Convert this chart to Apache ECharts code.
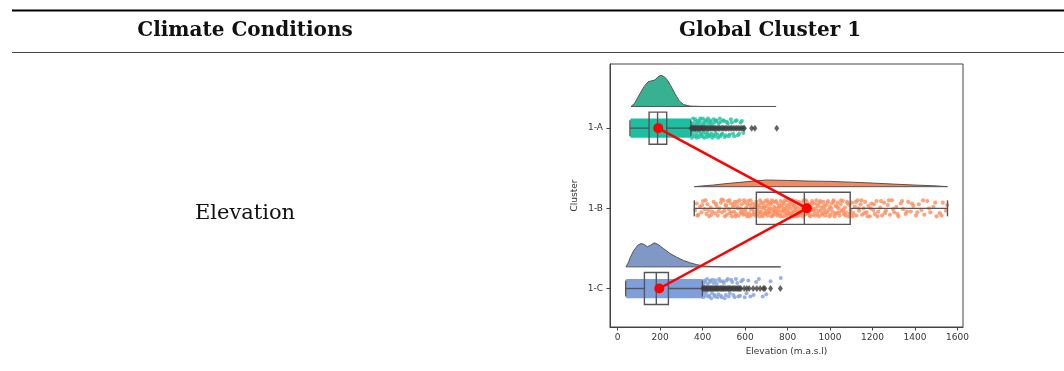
<!DOCTYPE html>
<html><head><meta charset="utf-8">
<script src="https://cdn.jsdelivr.net/npm/echarts@6/dist/echarts.min.js"></script>
<style>html,body{margin:0;padding:0;background:#fff}#c{width:1064px;height:371px}</style>
</head><body><div id="c"></div>
<script>
// ---------------- data ----------------
const headerLeft = 'Climate Conditions';
const headerRight = 'Global Cluster 1';
const rowLabel = 'Elevation';
const clusters = ['1-A', '1-B', '1-C'];
const xTicks = [0, 200, 400, 600, 800, 1000, 1200, 1400, 1600];
const xName = 'Elevation (m.a.s.l)';
const yName = 'Cluster';

// box stats: [whisker low, Q1, median, Q3, whisker high]
const boxA = [58, 148, 188, 231, 345];
const boxB = [361, 653, 879, 1095, 1553];
const boxC = [38, 126, 182, 239, 399];
const means = [191, 891, 196];

// half-violin (cloud) profiles: [elevation, density height in cluster units]
const cloudA = [[63,0],[80,0.04],[105,0.16],[125,0.25],[144,0.31],[160,0.32],[175,0.33],[190,0.37],[204,0.39],[220,0.37],[234,0.33],[250,0.26],[270,0.16],[290,0.07],[310,0.025],[340,0.005],[400,0],[746,0]];
const cloudB = [[361,0],[400,0.01],[450,0.02],[500,0.035],[600,0.06],[700,0.083],[800,0.078],[900,0.07],[1000,0.066],[1100,0.056],[1200,0.045],[1300,0.032],[1400,0.02],[1500,0.01],[1553,0]];
const cloudC = [[39,0],[50,0.05],[60,0.12],[75,0.2],[95,0.27],[110,0.29],[125,0.28],[140,0.25],[155,0.27],[172,0.3],[190,0.28],[215,0.23],[245,0.17],[278,0.12],[310,0.08],[341,0.05],[370,0.03],[402,0.012],[450,0.003],[500,0],[768,0]];

// dense (saturated) part of the strip plots: [low, high]
const denseA = [60, 345];
const denseC = [40, 400];

// individual strip points: [elevation, jitter offset]
const stripA = [[350,0.12],[355,-0.12],[362,0.1],[366,-0.11],[372,0.12],[378,-0.09],[384,0.11],[389,-0.12],[395,0.08],[401,-0.12],[407,0.12],[413,-0.1],[419,0.11],[425,-0.12],[432,0.09],[438,-0.08],[445,0.12],[452,-0.11],[458,0.1],[466,-0.09],[473,0.12],[481,-0.12],[489,0.08],[497,-0.1],[505,0.11],[514,-0.08],[523,0.1],[533,-0.11],[543,0.07],[554,-0.09],[566,0.09],[579,-0.07],[592,0.06],
[347,0.05],[349,-0.06],[353,0.08],[357,-0.04],[360,0.03],[364,-0.08],[369,0.06],[371,-0.05],[375,0.09],[380,-0.06],[383,0.04],[387,-0.09],[391,0.07],[393,-0.04],[398,0.1],[403,-0.07],[405,0.05],[410,-0.05],[416,0.08],[418,-0.09],[422,0.06],[428,-0.06],[430,0.1],[435,-0.1],[441,0.07],[443,-0.05],[449,0.09],[455,-0.07],[461,0.06],[463,-0.1],[470,0.08],[476,-0.06],[484,0.1],[486,-0.08],[493,0.07],[501,-0.09],[509,0.09],[518,-0.06],[527,0.08],[538,-0.07],[549,0.1],[560,-0.1],[572,0.07],[585,-0.09]];
const stripB = [[365,0.02],[372,-0.06],[380,0.08],[388,-0.02],[395,0.05],[402,-0.09],[410,0.01],[418,0.07],[423,-0.05],[431,0.1],[438,-0.01],[445,0.04],[452,-0.08],[458,0.06],[466,-0.03],[471,0.09],[479,0.0],[486,-0.07],[492,0.05],[498,-0.1],
[503,0.03],[508,-0.04],[514,0.08],[519,-0.09],[524,0.01],[529,0.06],[533,-0.06],[538,0.1],[543,-0.02],[548,0.04],[552,-0.08],[557,0.07],[561,-0.03],[566,0.0],[570,0.09],[574,-0.1],[579,0.05],[583,-0.05],[588,0.02],[592,0.08],[597,-0.07],[601,0.03],[606,-0.01],[610,0.1],[614,-0.09],[619,0.06],[623,-0.04],[628,0.01],[632,0.08],[636,-0.06],[641,0.04],[645,-0.02],[649,0.09],
[653,-0.08],[657,0.02],[660,0.07],[664,-0.04],[667,0.1],[671,-0.1],[674,0.04],[678,-0.01],[681,0.08],[685,-0.06],[688,0.0],[692,0.06],[695,-0.09],[699,0.03],[702,-0.03],[705,0.09],[709,-0.07],[712,0.01],[716,0.05],[719,-0.05],[723,0.1],[726,-0.1],[730,0.02],[733,0.07],[737,-0.02],[740,-0.08],[744,0.05],[747,0.0],[751,0.09],[754,-0.06],[758,0.03],[761,-0.03],[765,0.08],[768,-0.09],[772,0.04],[775,-0.01],[779,0.1],[782,-0.07],[786,0.01],[789,0.06],[793,-0.04],[796,0.09],[800,-0.1],[803,0.03],[807,-0.02],[810,0.07],[814,-0.08],[817,0.0],[821,0.05],[824,-0.05],[828,0.1],[831,-0.03],[835,0.02],[838,-0.09],[842,0.08],[845,-0.01],[849,0.04],[852,-0.06],[856,0.09],[859,0.01],[863,-0.07],[866,0.06],[870,-0.03],[873,0.1],[877,-0.1],[880,0.03],[884,-0.04],[887,0.07],[891,-0.08],[894,0.0],[898,0.05],[902,-0.05],[905,0.09],[909,-0.02],[912,0.02],[916,-0.09],[920,0.08],[924,-0.06],[928,0.04],[932,0.0],[936,-0.1],[940,0.07],[944,-0.03],[948,0.1],[952,-0.07],[956,0.03],[960,-0.01],[965,0.06],[969,-0.08],[973,0.01],[977,0.09],[981,-0.04],[986,0.05],[990,-0.09],[994,0.02],[999,-0.02],[1003,0.08],[1008,-0.06],[1012,0.04],[1017,-0.1],[1021,0.1],[1026,-0.03],[1030,0.06],[1035,-0.07],[1040,0.0],[1045,0.09],[1050,-0.05],[1055,0.03],[1060,-0.09],[1065,0.07],[1070,-0.01],[1075,0.05],[1080,-0.08],[1086,0.1],[1091,-0.04],[1097,0.02],
[1103,-0.07],[1110,0.06],[1117,-0.02],[1124,0.09],[1130,-0.1],[1137,0.03],[1144,-0.05],[1151,0.08],[1158,0.0],[1165,-0.08],[1172,0.05],[1180,-0.03],[1187,0.1],[1195,-0.06],[1203,0.02],[1211,0.07],[1219,-0.09],[1227,0.04],[1236,-0.01],[1245,0.09],[1254,-0.07],[1263,0.03],[1272,-0.04],[1282,0.08],[1292,-0.1],[1302,0.05],[1312,-0.02],[1322,0.1],[1333,-0.06],[1344,0.01],[1356,0.07],[1368,-0.08],[1380,0.04],[1392,-0.03],
[1405,0.09],[1418,-0.05],[1430,0.02],[1444,0.08],[1458,-0.09],[1472,0.05],[1487,-0.02],[1502,0.1],[1517,0.06],[1531,-0.07],[1545,0.03],[1552,-0.04],
[376,0.09],[398,-0.04],[414,-0.1],[427,0.03],[441,0.08],[462,-0.06],[475,0.04],[489,-0.11],[505,0.1],[511,-0.03],[526,-0.1],[535,0.05],[546,-0.05],[555,0.1],[564,-0.08],[577,0.0],[586,0.06],[595,-0.1],[604,0.07],[612,-0.05],[621,0.1],[626,-0.1],[634,0.0],[643,0.07],[651,-0.04],[662,-0.01],[669,0.05],[676,-0.07],[683,0.1],[690,-0.02],[697,0.07],[704,-0.1],[711,0.05],[718,0.0],[724,-0.07],[731,0.09],[739,0.03],[746,-0.09],[753,0.06],[760,-0.01],[767,0.1],[774,-0.05],[781,0.03],[788,-0.1],[795,0.0],[802,0.06],[809,-0.05],[816,0.09],[823,-0.1],[830,0.04],[837,-0.01],[844,0.1],[851,-0.08],[858,0.05],[865,-0.04],[872,0.0],[879,0.08],[886,-0.1],[893,0.06],[900,-0.02],[907,0.1],[914,-0.06],[922,0.01],[930,0.09],[938,-0.05],[946,0.03],[954,-0.09],[962,0.08],[971,-0.03],[979,0.05],[988,-0.07],[997,0.1],[1006,0.0],[1015,-0.08],[1024,0.07],[1033,-0.02],[1042,0.05],[1052,-0.1],[1062,0.02],[1072,0.09],[1083,-0.06],[1094,0.06],[1106,0.1],[1121,-0.08],[1134,0.0],[1148,-0.1],[1162,0.06],[1177,0.1],[1191,0.0],[1207,-0.05],[1223,0.1],[1240,-0.09],[1258,0.06],[1277,-0.1],[1297,0.01],[1317,0.07],[1339,-0.09],[1362,0.04],[1386,-0.06],[1411,0.05],[1438,-0.1],[1466,0.0],[1495,-0.07],[1525,0.09]];
const stripC = [[404,0.11],[409,-0.1],[415,0.09],[421,-0.12],[428,0.1],[434,-0.08],[441,0.12],[448,-0.11],[455,0.08],[462,-0.1],[470,0.11],[478,-0.12],[486,0.09],[495,-0.09],[504,0.12],[513,-0.1],[523,0.1],[534,-0.11],[545,0.08],[557,-0.12],[569,0.1],[582,-0.09],[598,0.11],[615,-0.1],[640,0.08],[665,-0.12],[700,0.07],[768,-0.13],
[403,-0.05],[407,0.06],[412,-0.08],[418,0.05],[424,-0.06],[431,0.09],[437,-0.1],[444,0.06],[451,-0.07],[458,0.1],[466,-0.06],[474,0.07],[482,-0.09],[490,0.11],[500,-0.07],[509,0.08],[518,-0.12],[528,0.06],[540,-0.08],[551,0.11],[563,-0.07],[576,0.09],[590,-0.11],[607,0.06],[625,0.1],[652,-0.08],[683,0.1],[720,-0.09]];

// outliers (diamonds)
const outliersA = [346,350,355,359,364,368,373,378,382,387,392,397,401,406,411,417,422,427,433,438,444,450,455,461,468,474,480,487,494,500,507,514,521,529,536,544,552,560,568,576,584,591,597,631,646,749];
const outliersC = [401,405,410,414,419,423,428,433,437,442,447,452,457,462,467,472,477,483,488,494,499,505,510,516,522,527,533,539,545,551,557,563,569,575,580,596,608,619,638,655,671,686,693,720,766];

// ---------------- styles ----------------
const cloudColors = ['#38b192', '#f08a62', '#7f98c6'];
const stripColors = ['#1cc0a0', '#fb8d5e', '#7f9fdb'];
const lineGray = '#555555';
const CLOUD_OFF = -0.27, BAND = 0.12, BOX_H = 0.2, CAP = 0.1;

const clouds = [cloudA, cloudB, cloudC];
const boxes = [boxA, boxB, boxC];
const tickFont = 'DejaVu Sans';

const chart = echarts.init(document.getElementById('c'), null, {renderer: 'canvas'});

function renderCloud(params, api) {
  const i = api.value(1);
  const pts = clouds[i].map(d => api.coord([d[0], i + CLOUD_OFF - d[1]]));
  return {type: 'polygon', shape: {points: pts},
    style: {fill: cloudColors[i], stroke: lineGray, lineWidth: 1}};
}
function renderBand(params, api) {
  const lo = api.value(0), hi = api.value(1), i = api.value(2);
  const a = api.coord([lo, i - BAND]), b = api.coord([hi, i + BAND]);
  return {type: 'rect', shape: {x: Math.min(a[0], b[0]), y: Math.min(a[1], b[1]), width: Math.abs(b[0] - a[0]), height: Math.abs(b[1] - a[1])},
    style: {fill: stripColors[i]}};
}
function renderBox(params, api) {
  const i = api.value(0);
  const wl = api.value(1), q1 = api.value(2), md = api.value(3), q3 = api.value(4), wh = api.value(5);
  const st = {stroke: lineGray, lineWidth: 1.4, fill: 'transparent'};
  const ln = (x1, y1, x2, y2) => {
    const p = api.coord([x1, y1]), q = api.coord([x2, y2]);
    return {type: 'line', shape: {x1: p[0], y1: p[1], x2: q[0], y2: q[1]}, style: st};
  };
  const a = api.coord([q1, i - BOX_H]), b = api.coord([q3, i + BOX_H]);
  return {type: 'group', children: [
    {type: 'rect', shape: {x: Math.min(a[0], b[0]), y: Math.min(a[1], b[1]), width: Math.abs(b[0] - a[0]), height: Math.abs(b[1] - a[1])}, style: st},
    ln(md, i - BOX_H, md, i + BOX_H),
    ln(wl, i, q1, i), ln(q3, i, wh, i),
    ln(wl, i - CAP, wl, i + CAP), ln(wh, i - CAP, wh, i + CAP)
  ]};
}

const option = {
  animation: false,
  backgroundColor: '#ffffff',
  grid: {left: 610, top: 64, width: 353, height: 263, show: true, borderColor: '#444', borderWidth: 1, backgroundColor: 'transparent'},
  xAxis: {
    type: 'value', min: -36, max: 1626,
    name: xName, nameLocation: 'middle', nameGap: 20,
    nameTextStyle: {fontFamily: tickFont, fontSize: 9, color: '#333'},
    axisLine: {show: true, onZero: false, lineStyle: {color: '#444'}},
    axisTick: {show: true, customValues: xTicks, length: 3.5, lineStyle: {color: '#444'}},
    axisLabel: {customValues: xTicks, margin: 6, fontFamily: tickFont, fontSize: 9, color: '#333', formatter: v => String(v)},
    splitLine: {show: false}
  },
  yAxis: {
    type: 'value', min: -0.8, max: 2.48, inverse: true,
    name: yName, nameLocation: 'middle', nameGap: 31,
    nameTextStyle: {fontFamily: tickFont, fontSize: 9, color: '#333'},
    axisLine: {show: true, onZero: false, lineStyle: {color: '#444'}},
    axisTick: {show: true, customValues: [0, 1, 2], length: 3.5, lineStyle: {color: '#444'}},
    axisLabel: {customValues: [0, 1, 2], margin: 7, fontFamily: tickFont, fontSize: 9, color: '#333',
      formatter: v => clusters[Math.round(v)]},
    splitLine: {show: false}
  },
  graphic: [
    {type: 'line', shape: {x1: 12, y1: 10.5, x2: 1064, y2: 10.5}, style: {stroke: '#000', lineWidth: 2}},
    {type: 'line', shape: {x1: 12, y1: 52.5, x2: 1064, y2: 52.5}, style: {stroke: '#444', lineWidth: 1}},
    {type: 'text', x: 245, y: 31, style: {text: headerLeft, font: 'bold 20px "DejaVu Serif"', fill: '#111', align: 'center', verticalAlign: 'middle', textAlign: 'center', textVerticalAlign: 'middle'}},
    {type: 'text', x: 770, y: 31, style: {text: headerRight, font: 'bold 20px "DejaVu Serif"', fill: '#111', align: 'center', verticalAlign: 'middle', textAlign: 'center', textVerticalAlign: 'middle'}},
    {type: 'text', x: 245, y: 214, style: {text: rowLabel, font: '21px "DejaVu Serif"', fill: '#111', align: 'center', verticalAlign: 'middle', textAlign: 'center', textVerticalAlign: 'middle'}}
  ],
  series: [
    {type: 'custom', name: 'cloud', renderItem: renderCloud, data: [[0, 0], [0, 1], [0, 2]], encode: {x: 0, y: 1}, z: 1, silent: true},
    {type: 'custom', name: 'band', renderItem: renderBand, data: [[denseA[0], denseA[1], 0], [denseC[0], denseC[1], 2]], encode: {x: [0, 1], y: 2}, z: 2, silent: true},
    {type: 'scatter', data: stripA.map(d => [d[0], 0 + d[1]]), symbolSize: 4, itemStyle: {color: stripColors[0]}, z: 3},
    {type: 'scatter', data: stripB.map(d => [d[0], 1 + d[1]]), symbolSize: 4.2, itemStyle: {color: stripColors[1]}, z: 3},
    {type: 'scatter', data: stripC.map(d => [d[0], 2 + d[1]]), symbolSize: 4, itemStyle: {color: stripColors[2]}, z: 3},
    {type: 'custom', name: 'box', renderItem: renderBox, data: boxes.map((b, i) => [i].concat(b)), encode: {x: [1, 2, 3, 4, 5], y: 0}, z: 4, silent: true},
    {type: 'scatter', data: outliersA.map(v => [v, 0]), symbol: 'diamond', symbolSize: [5, 7], itemStyle: {color: '#3d3d3d'}, z: 5},
    {type: 'scatter', data: outliersC.map(v => [v, 2]), symbol: 'diamond', symbolSize: [5, 7], itemStyle: {color: '#3d3d3d'}, z: 5},
    {type: 'line', data: means.map((m, i) => [m, i]), symbol: 'circle', symbolSize: 10, showSymbol: true,
      lineStyle: {color: '#ff0000', width: 2.5}, itemStyle: {color: '#ff0000'}, z: 6}
  ]
};
chart.setOption(option);
</script>
</body></html>
